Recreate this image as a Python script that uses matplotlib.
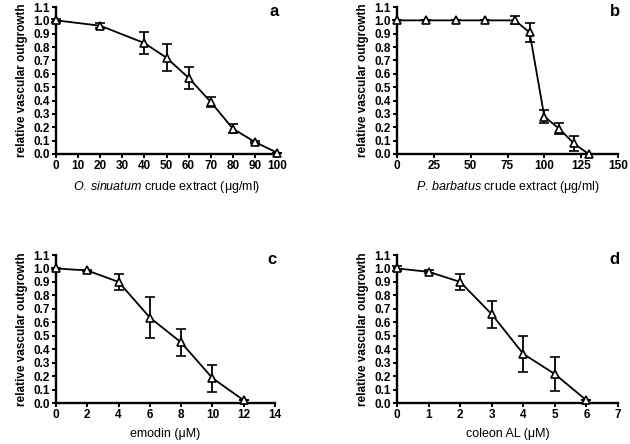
import matplotlib
matplotlib.use('Agg')
import matplotlib.pyplot as plt
from matplotlib.ticker import MultipleLocator

plt.rcParams['font.family'] = ['Liberation Sans', 'DejaVu Sans']
plt.rcParams['mathtext.fontset'] = 'custom'
plt.rcParams['mathtext.it'] = 'Liberation Sans:italic'
plt.rcParams['mathtext.rm'] = 'Liberation Sans'

# panel a
a_x = [0, 20, 40, 50, 60, 70, 80, 90, 100]
a_y = [1.0, 0.96, 0.83, 0.72, 0.57, 0.39, 0.19, 0.09, 0.01]
a_err = [0.01, 0.02, 0.08, 0.10, 0.08, 0.035, 0.035, 0.01, 0.0]

# panel b
b_x = [0, 20, 40, 60, 80, 90, 100, 110, 120, 130]
b_y = [1.0, 1.0, 1.0, 1.0, 1.0, 0.91, 0.28, 0.19, 0.08, 0.0]
b_err = [0.0, 0.0, 0.0, 0.0, 0.03, 0.07, 0.05, 0.04, 0.055, 0.0]

# panel c
c_x = [0, 2, 4, 6, 8, 10, 12]
c_y = [1.0, 0.985, 0.90, 0.635, 0.45, 0.185, 0.02]
c_err = [0.005, 0.005, 0.06, 0.155, 0.10, 0.10, 0.0]

# panel d
d_x = [0, 1, 2, 3, 4, 5, 6]
d_y = [1.0, 0.975, 0.90, 0.66, 0.365, 0.215, 0.02]
d_err = [0.02, 0.01, 0.06, 0.10, 0.135, 0.125, 0.0]

W, H = 630, 444


def panel(rect, x, y, err, xmax, xstep, xlabel, letter):
    l, t, r, b = rect
    ax = fig.add_axes([l / W, 1 - b / H, (r - l) / W, (b - t) / H])
    ax.errorbar(x, y, yerr=err, color='black', lw=1.3, elinewidth=1.3, capsize=3.5,
                capthick=1.3, marker='^', markersize=5.5, markerfacecolor='white',
                markeredgecolor='black', markeredgewidth=1.2, clip_on=False, zorder=3)
    ax.set_xlim(0, xmax)
    ax.set_ylim(0, 1.1)
    ax.xaxis.set_major_locator(MultipleLocator(xstep))
    ax.yaxis.set_major_locator(MultipleLocator(0.1))
    ax.yaxis.set_major_formatter(plt.FuncFormatter(lambda v, p: f'{v:.1f}'))
    for s in ['top', 'right']:
        ax.spines[s].set_visible(False)
    for s in ['left', 'bottom']:
        ax.spines[s].set_linewidth(1.7)
    ax.tick_params(direction='out', length=3, width=1.4, labelsize=8.5, pad=1.5)
    for lab in ax.get_xticklabels() + ax.get_yticklabels():
        lab.set_fontweight('bold')
    ax.set_ylabel('relative vascular outgrowth', fontsize=8.5, fontweight='bold', labelpad=4)
    ax.set_xlabel(xlabel, fontsize=9, labelpad=5)
    ax.text(0.985, 0.97, letter, transform=ax.transAxes, fontsize=12, fontweight='bold',
            ha='center', va='center')
    return ax


fig = plt.figure(figsize=(W / 100, H / 100), dpi=100)
panel((56, 7, 277, 154), a_x, a_y, a_err, 100, 10,
      r'$\it{O.\,sinuatum}$ crude extract (μg/ml)', 'a')
panel((397, 7, 618, 154), b_x, b_y, b_err, 150, 25,
      r'$\it{P.\,barbatus}$ crude extract (μg/ml)', 'b')
panel((56, 255, 275, 403), c_x, c_y, c_err, 14, 2, 'emodin (μM)', 'c')
panel((397, 255, 618, 403), d_x, d_y, d_err, 7, 1, 'coleon AL (μM)', 'd')

fig.savefig('out.png', dpi=100)
